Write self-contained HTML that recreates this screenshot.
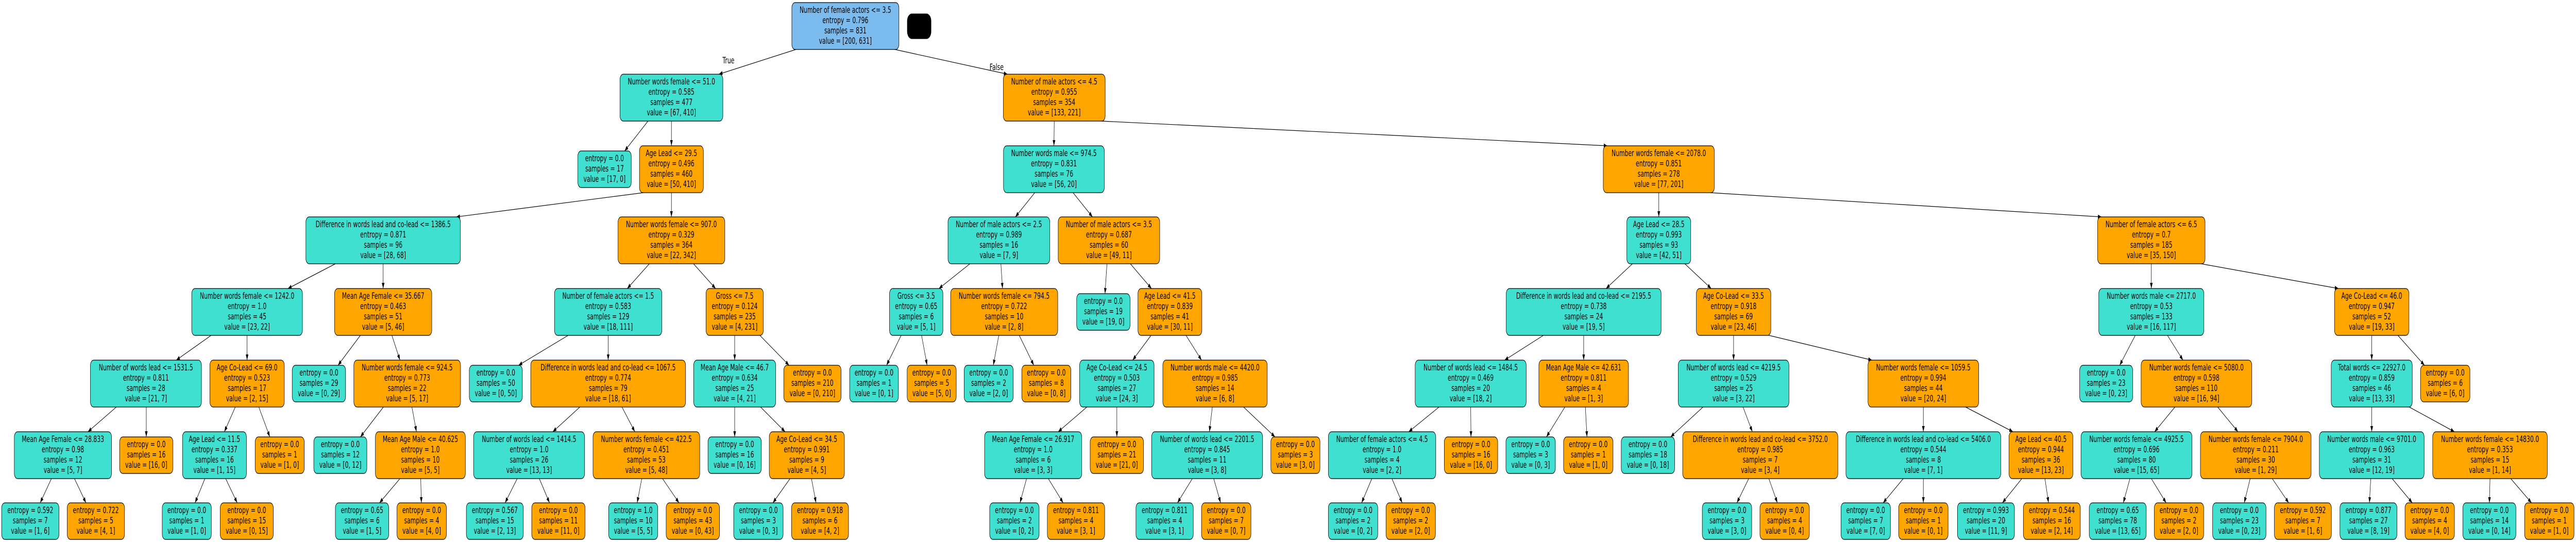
<!DOCTYPE html>
<html><head><meta charset="utf-8"><style>
html,body{margin:0;padding:0;background:#fff;width:100%;height:100%;overflow:hidden;}
svg{display:block;width:100vw;height:100vh}
rect{stroke:#000;stroke-width:1.2}
.t{fill:#40e0d0}.o{fill:#ffa500}.b{fill:#7bbbee}
text{font-family:"DejaVu Sans","Liberation Sans",sans-serif;font-size:17px;text-anchor:middle;fill:#000}
line{stroke:#000;stroke-width:1.2;marker-end:url(#ah)}
</style></head><body>
<svg width="7819" height="1052" viewBox="0 0 7819 1052" preserveAspectRatio="none" xmlns="http://www.w3.org/2000/svg">
<defs><marker id="ah" markerUnits="userSpaceOnUse" markerWidth="11" markerHeight="8" refX="11" refY="4" orient="auto"><path d="M0,0 L11,4 L0,8 z" fill="#000"/></marker></defs>
<line x1="2416" y1="96" x2="2182" y2="144"/>
<line x1="2716" y1="96" x2="3058" y2="144"/>
<line x1="1967" y1="235" x2="1896" y2="293"/>
<line x1="2038" y1="235" x2="2038" y2="283"/>
<line x1="3200" y1="235" x2="3199" y2="283"/>
<line x1="3342" y1="235" x2="4879" y2="283"/>
<line x1="1953" y1="374" x2="1385" y2="421"/>
<line x1="2038" y1="374" x2="2038" y2="421"/>
<line x1="3141" y1="374" x2="3082" y2="421"/>
<line x1="3257" y1="374" x2="3316" y2="421"/>
<line x1="5035" y1="374" x2="5035" y2="421"/>
<line x1="5191" y1="374" x2="6379" y2="421"/>
<line x1="1018" y1="512" x2="874" y2="560"/>
<line x1="1163" y1="512" x2="1163" y2="560"/>
<line x1="1971" y1="512" x2="1904" y2="560"/>
<line x1="2105" y1="512" x2="2172" y2="560"/>
<line x1="2944" y1="512" x2="2850" y2="560"/>
<line x1="3038" y1="512" x2="3043" y2="560"/>
<line x1="3360" y1="512" x2="3354" y2="570"/>
<line x1="3431" y1="512" x2="3495" y2="560"/>
<line x1="4955" y1="512" x2="4875" y2="560"/>
<line x1="5114" y1="512" x2="5194" y2="560"/>
<line x1="6530" y1="512" x2="6530" y2="560"/>
<line x1="6681" y1="512" x2="7098" y2="560"/>
<line x1="643" y1="650" x2="535" y2="699"/>
<line x1="750" y1="650" x2="750" y2="699"/>
<line x1="1095" y1="650" x2="1026" y2="709"/>
<line x1="1189" y1="650" x2="1214" y2="699"/>
<line x1="1727" y1="650" x2="1574" y2="709"/>
<line x1="1846" y1="650" x2="1846" y2="699"/>
<line x1="2230" y1="650" x2="2230" y2="699"/>
<line x1="2305" y1="650" x2="2395" y2="709"/>
<line x1="2736" y1="650" x2="2691" y2="709"/>
<line x1="2797" y1="650" x2="2814" y2="709"/>
<line x1="3032" y1="650" x2="3015" y2="709"/>
<line x1="3093" y1="650" x2="3138" y2="709"/>
<line x1="3495" y1="650" x2="3438" y2="699"/>
<line x1="3599" y1="650" x2="3647" y2="699"/>
<line x1="4687" y1="650" x2="4567" y2="699"/>
<line x1="4807" y1="650" x2="4807" y2="699"/>
<line x1="5262" y1="650" x2="5262" y2="699"/>
<line x1="5363" y1="650" x2="5682" y2="699"/>
<line x1="6482" y1="650" x2="6434" y2="709"/>
<line x1="6578" y1="650" x2="6626" y2="699"/>
<line x1="7199" y1="650" x2="7199" y2="699"/>
<line x1="7277" y1="650" x2="7359" y2="709"/>
<line x1="355" y1="789" x2="267" y2="838"/>
<line x1="444" y1="789" x2="444" y2="848"/>
<line x1="715" y1="789" x2="681" y2="838"/>
<line x1="785" y1="789" x2="819" y2="848"/>
<line x1="1165" y1="789" x2="1094" y2="848"/>
<line x1="1250" y1="789" x2="1264" y2="838"/>
<line x1="1762" y1="789" x2="1678" y2="838"/>
<line x1="1887" y1="789" x2="1927" y2="838"/>
<line x1="2230" y1="789" x2="2230" y2="848"/>
<line x1="2307" y1="789" x2="2383" y2="838"/>
<line x1="3301" y1="789" x2="3212" y2="838"/>
<line x1="3390" y1="789" x2="3390" y2="848"/>
<line x1="3680" y1="789" x2="3671" y2="838"/>
<line x1="3773" y1="789" x2="3870" y2="848"/>
<line x1="4370" y1="789" x2="4276" y2="838"/>
<line x1="4464" y1="789" x2="4465" y2="848"/>
<line x1="4751" y1="789" x2="4694" y2="848"/>
<line x1="4812" y1="789" x2="4817" y2="848"/>
<line x1="5171" y1="789" x2="5071" y2="848"/>
<line x1="5290" y1="789" x2="5319" y2="838"/>
<line x1="5838" y1="789" x2="5838" y2="838"/>
<line x1="5963" y1="789" x2="6110" y2="838"/>
<line x1="6603" y1="789" x2="6540" y2="838"/>
<line x1="6730" y1="789" x2="6793" y2="838"/>
<line x1="7199" y1="789" x2="7199" y2="838"/>
<line x1="7310" y1="789" x2="7450" y2="838"/>
<line x1="156" y1="929" x2="122" y2="976"/>
<line x1="226" y1="929" x2="261" y2="976"/>
<line x1="622" y1="929" x2="592" y2="976"/>
<line x1="685" y1="929" x2="720" y2="976"/>
<line x1="1214" y1="929" x2="1152" y2="976"/>
<line x1="1277" y1="929" x2="1279" y2="976"/>
<line x1="1570" y1="929" x2="1533" y2="976"/>
<line x1="1637" y1="929" x2="1668" y2="976"/>
<line x1="1948" y1="929" x2="1934" y2="976"/>
<line x1="2011" y1="929" x2="2061" y2="976"/>
<line x1="2398" y1="929" x2="2346" y2="976"/>
<line x1="2463" y1="929" x2="2477" y2="976"/>
<line x1="3116" y1="929" x2="3096" y2="976"/>
<line x1="3182" y1="929" x2="3227" y2="976"/>
<line x1="3619" y1="929" x2="3574" y2="976"/>
<line x1="3684" y1="929" x2="3705" y2="976"/>
<line x1="4164" y1="929" x2="4133" y2="976"/>
<line x1="4225" y1="929" x2="4256" y2="976"/>
<line x1="5308" y1="929" x2="5272" y2="976"/>
<line x1="5369" y1="929" x2="5395" y2="976"/>
<line x1="5777" y1="929" x2="5716" y2="976"/>
<line x1="5838" y1="929" x2="5838" y2="976"/>
<line x1="6137" y1="929" x2="6078" y2="976"/>
<line x1="6207" y1="929" x2="6218" y2="976"/>
<line x1="6465" y1="929" x2="6445" y2="976"/>
<line x1="6530" y1="929" x2="6575" y2="976"/>
<line x1="6830" y1="929" x2="6812" y2="976"/>
<line x1="6897" y1="929" x2="6947" y2="976"/>
<line x1="7196" y1="929" x2="7192" y2="976"/>
<line x1="7261" y1="929" x2="7322" y2="976"/>
<line x1="7558" y1="929" x2="7556" y2="976"/>
<line x1="7621" y1="929" x2="7684" y2="976"/>
<text x="2211" y="123">True</text>
<text x="3025" y="136">False</text>
<rect x="2754" y="27" width="72" height="48" rx="14" fill="#000"/>
<rect class="b" x="2403.5" y="5" width="325" height="91" rx="10"/><text x="2566" y="25">Number of female actors &lt;= 3.5<tspan x="2566" dy="20">entropy = 0.796</tspan><tspan x="2566" dy="20">samples = 831</tspan><tspan x="2566" dy="20">value = [200, 631]</tspan></text>
<rect class="t" x="1882" y="144" width="312" height="91" rx="10"/><text x="2038" y="164">Number words female &lt;= 51.0<tspan x="2038" dy="20">entropy = 0.585</tspan><tspan x="2038" dy="20">samples = 477</tspan><tspan x="2038" dy="20">value = [67, 410]</tspan></text>
<rect class="o" x="3045.5" y="144" width="309" height="91" rx="10"/><text x="3200" y="164">Number of male actors &lt;= 4.5<tspan x="3200" dy="20">entropy = 0.955</tspan><tspan x="3200" dy="20">samples = 354</tspan><tspan x="3200" dy="20">value = [133, 221]</tspan></text>
<rect class="t" x="1754" y="293" width="162" height="71" rx="10"/><text x="1835" y="313">entropy = 0.0<tspan x="1835" dy="20">samples = 17</tspan><tspan x="1835" dy="20">value = [17, 0]</tspan></text>
<rect class="o" x="1941" y="283" width="194" height="91" rx="10"/><text x="2038" y="303">Age Lead &lt;= 29.5<tspan x="2038" dy="20">entropy = 0.496</tspan><tspan x="2038" dy="20">samples = 460</tspan><tspan x="2038" dy="20">value = [50, 410]</tspan></text>
<rect class="t" x="3046" y="283" width="306" height="91" rx="10"/><text x="3199" y="303">Number words male &lt;= 974.5<tspan x="3199" dy="20">entropy = 0.831</tspan><tspan x="3199" dy="20">samples = 76</tspan><tspan x="3199" dy="20">value = [56, 20]</tspan></text>
<rect class="o" x="4866.5" y="283" width="337" height="91" rx="10"/><text x="5035" y="303">Number words female &lt;= 2078.0<tspan x="5035" dy="20">entropy = 0.851</tspan><tspan x="5035" dy="20">samples = 278</tspan><tspan x="5035" dy="20">value = [77, 201]</tspan></text>
<rect class="t" x="928.5" y="421" width="469" height="91" rx="10"/><text x="1163" y="441">Difference in words lead and co-lead &lt;= 1386.5<tspan x="1163" dy="20">entropy = 0.871</tspan><tspan x="1163" dy="20">samples = 96</tspan><tspan x="1163" dy="20">value = [28, 68]</tspan></text>
<rect class="o" x="1876" y="421" width="324" height="91" rx="10"/><text x="2038" y="441">Number words female &lt;= 907.0<tspan x="2038" dy="20">entropy = 0.329</tspan><tspan x="2038" dy="20">samples = 364</tspan><tspan x="2038" dy="20">value = [22, 342]</tspan></text>
<rect class="t" x="2877.5" y="421" width="309" height="91" rx="10"/><text x="3032" y="441">Number of male actors &lt;= 2.5<tspan x="3032" dy="20">entropy = 0.989</tspan><tspan x="3032" dy="20">samples = 16</tspan><tspan x="3032" dy="20">value = [7, 9]</tspan></text>
<rect class="o" x="3212" y="421" width="308" height="91" rx="10"/><text x="3366" y="441">Number of male actors &lt;= 3.5<tspan x="3366" dy="20">entropy = 0.687</tspan><tspan x="3366" dy="20">samples = 60</tspan><tspan x="3366" dy="20">value = [49, 11]</tspan></text>
<rect class="t" x="4938" y="421" width="194" height="91" rx="10"/><text x="5035" y="441">Age Lead &lt;= 28.5<tspan x="5035" dy="20">entropy = 0.993</tspan><tspan x="5035" dy="20">samples = 93</tspan><tspan x="5035" dy="20">value = [42, 51]</tspan></text>
<rect class="o" x="6367" y="421" width="326" height="91" rx="10"/><text x="6530" y="441">Number of female actors &lt;= 6.5<tspan x="6530" dy="20">entropy = 0.7</tspan><tspan x="6530" dy="20">samples = 185</tspan><tspan x="6530" dy="20">value = [35, 150]</tspan></text>
<rect class="t" x="582" y="560" width="336" height="91" rx="10"/><text x="750" y="580">Number words female &lt;= 1242.0<tspan x="750" dy="20">entropy = 1.0</tspan><tspan x="750" dy="20">samples = 45</tspan><tspan x="750" dy="20">value = [23, 22]</tspan></text>
<rect class="o" x="1015.5" y="560" width="295" height="91" rx="10"/><text x="1163" y="580">Mean Age Female &lt;= 35.667<tspan x="1163" dy="20">entropy = 0.463</tspan><tspan x="1163" dy="20">samples = 51</tspan><tspan x="1163" dy="20">value = [5, 46]</tspan></text>
<rect class="t" x="1683" y="560" width="326" height="91" rx="10"/><text x="1846" y="580">Number of female actors &lt;= 1.5<tspan x="1846" dy="20">entropy = 0.583</tspan><tspan x="1846" dy="20">samples = 129</tspan><tspan x="1846" dy="20">value = [18, 111]</tspan></text>
<rect class="o" x="2143" y="560" width="174" height="91" rx="10"/><text x="2230" y="580">Gross &lt;= 7.5<tspan x="2230" dy="20">entropy = 0.124</tspan><tspan x="2230" dy="20">samples = 235</tspan><tspan x="2230" dy="20">value = [4, 231]</tspan></text>
<rect class="t" x="2700" y="560" width="162" height="91" rx="10"/><text x="2781" y="580">Gross &lt;= 3.5<tspan x="2781" dy="20">entropy = 0.65</tspan><tspan x="2781" dy="20">samples = 6</tspan><tspan x="2781" dy="20">value = [5, 1]</tspan></text>
<rect class="o" x="2885.5" y="560" width="325" height="91" rx="10"/><text x="3048" y="580">Number words female &lt;= 794.5<tspan x="3048" dy="20">entropy = 0.722</tspan><tspan x="3048" dy="20">samples = 10</tspan><tspan x="3048" dy="20">value = [2, 8]</tspan></text>
<rect class="t" x="3268" y="570" width="162" height="71" rx="10"/><text x="3349" y="590">entropy = 0.0<tspan x="3349" dy="20">samples = 19</tspan><tspan x="3349" dy="20">value = [19, 0]</tspan></text>
<rect class="o" x="3454" y="560" width="194" height="91" rx="10"/><text x="3551" y="580">Age Lead &lt;= 41.5<tspan x="3551" dy="20">entropy = 0.839</tspan><tspan x="3551" dy="20">samples = 41</tspan><tspan x="3551" dy="20">value = [30, 11]</tspan></text>
<rect class="t" x="4572" y="560" width="470" height="91" rx="10"/><text x="4807" y="580">Difference in words lead and co-lead &lt;= 2195.5<tspan x="4807" dy="20">entropy = 0.738</tspan><tspan x="4807" dy="20">samples = 24</tspan><tspan x="4807" dy="20">value = [19, 5]</tspan></text>
<rect class="o" x="5149" y="560" width="226" height="91" rx="10"/><text x="5262" y="580">Age Co-Lead &lt;= 33.5<tspan x="5262" dy="20">entropy = 0.918</tspan><tspan x="5262" dy="20">samples = 69</tspan><tspan x="5262" dy="20">value = [23, 46]</tspan></text>
<rect class="t" x="6370.5" y="560" width="319" height="91" rx="10"/><text x="6530" y="580">Number words male &lt;= 2717.0<tspan x="6530" dy="20">entropy = 0.53</tspan><tspan x="6530" dy="20">samples = 133</tspan><tspan x="6530" dy="20">value = [16, 117]</tspan></text>
<rect class="o" x="7086" y="560" width="226" height="91" rx="10"/><text x="7199" y="580">Age Co-Lead &lt;= 46.0<tspan x="7199" dy="20">entropy = 0.947</tspan><tspan x="7199" dy="20">samples = 52</tspan><tspan x="7199" dy="20">value = [19, 33]</tspan></text>
<rect class="t" x="274.5" y="699" width="337" height="91" rx="10"/><text x="443" y="719">Number of words lead &lt;= 1531.5<tspan x="443" dy="20">entropy = 0.811</tspan><tspan x="443" dy="20">samples = 28</tspan><tspan x="443" dy="20">value = [21, 7]</tspan></text>
<rect class="o" x="637" y="699" width="226" height="91" rx="10"/><text x="750" y="719">Age Co-Lead &lt;= 69.0<tspan x="750" dy="20">entropy = 0.523</tspan><tspan x="750" dy="20">samples = 17</tspan><tspan x="750" dy="20">value = [2, 15]</tspan></text>
<rect class="t" x="887" y="709" width="162" height="71" rx="10"/><text x="968" y="729">entropy = 0.0<tspan x="968" dy="20">samples = 29</tspan><tspan x="968" dy="20">value = [0, 29]</tspan></text>
<rect class="o" x="1074" y="699" width="324" height="91" rx="10"/><text x="1236" y="719">Number words female &lt;= 924.5<tspan x="1236" dy="20">entropy = 0.773</tspan><tspan x="1236" dy="20">samples = 22</tspan><tspan x="1236" dy="20">value = [5, 17]</tspan></text>
<rect class="t" x="1424.5" y="709" width="161" height="71" rx="10"/><text x="1505" y="729">entropy = 0.0<tspan x="1505" dy="20">samples = 50</tspan><tspan x="1505" dy="20">value = [0, 50]</tspan></text>
<rect class="o" x="1611" y="699" width="470" height="91" rx="10"/><text x="1846" y="719">Difference in words lead and co-lead &lt;= 1067.5<tspan x="1846" dy="20">entropy = 0.774</tspan><tspan x="1846" dy="20">samples = 79</tspan><tspan x="1846" dy="20">value = [18, 61]</tspan></text>
<rect class="t" x="2105.5" y="699" width="249" height="91" rx="10"/><text x="2230" y="719">Mean Age Male &lt;= 46.7<tspan x="2230" dy="20">entropy = 0.634</tspan><tspan x="2230" dy="20">samples = 25</tspan><tspan x="2230" dy="20">value = [4, 21]</tspan></text>
<rect class="o" x="2379" y="709" width="174" height="71" rx="10"/><text x="2466" y="729">entropy = 0.0<tspan x="2466" dy="20">samples = 210</tspan><tspan x="2466" dy="20">value = [0, 210]</tspan></text>
<rect class="t" x="2579" y="709" width="148" height="71" rx="10"/><text x="2653" y="729">entropy = 0.0<tspan x="2653" dy="20">samples = 1</tspan><tspan x="2653" dy="20">value = [0, 1]</tspan></text>
<rect class="o" x="2753.5" y="709" width="149" height="71" rx="10"/><text x="2828" y="729">entropy = 0.0<tspan x="2828" dy="20">samples = 5</tspan><tspan x="2828" dy="20">value = [5, 0]</tspan></text>
<rect class="t" x="2926.5" y="709" width="149" height="71" rx="10"/><text x="3001" y="729">entropy = 0.0<tspan x="3001" dy="20">samples = 2</tspan><tspan x="3001" dy="20">value = [2, 0]</tspan></text>
<rect class="o" x="3101.5" y="709" width="149" height="71" rx="10"/><text x="3176" y="729">entropy = 0.0<tspan x="3176" dy="20">samples = 8</tspan><tspan x="3176" dy="20">value = [0, 8]</tspan></text>
<rect class="t" x="3277" y="699" width="226" height="91" rx="10"/><text x="3390" y="719">Age Co-Lead &lt;= 24.5<tspan x="3390" dy="20">entropy = 0.503</tspan><tspan x="3390" dy="20">samples = 27</tspan><tspan x="3390" dy="20">value = [24, 3]</tspan></text>
<rect class="o" x="3529.5" y="699" width="317" height="91" rx="10"/><text x="3688" y="719">Number words male &lt;= 4420.0<tspan x="3688" dy="20">entropy = 0.985</tspan><tspan x="3688" dy="20">samples = 14</tspan><tspan x="3688" dy="20">value = [6, 8]</tspan></text>
<rect class="t" x="4295.5" y="699" width="337" height="91" rx="10"/><text x="4464" y="719">Number of words lead &lt;= 1484.5<tspan x="4464" dy="20">entropy = 0.469</tspan><tspan x="4464" dy="20">samples = 20</tspan><tspan x="4464" dy="20">value = [18, 2]</tspan></text>
<rect class="o" x="4671" y="699" width="272" height="91" rx="10"/><text x="4807" y="719">Mean Age Male &lt;= 42.631<tspan x="4807" dy="20">entropy = 0.811</tspan><tspan x="4807" dy="20">samples = 4</tspan><tspan x="4807" dy="20">value = [1, 3]</tspan></text>
<rect class="t" x="5094" y="699" width="336" height="91" rx="10"/><text x="5262" y="719">Number of words lead &lt;= 4219.5<tspan x="5262" dy="20">entropy = 0.529</tspan><tspan x="5262" dy="20">samples = 25</tspan><tspan x="5262" dy="20">value = [3, 22]</tspan></text>
<rect class="o" x="5670" y="699" width="336" height="91" rx="10"/><text x="5838" y="719">Number words female &lt;= 1059.5<tspan x="5838" dy="20">entropy = 0.994</tspan><tspan x="5838" dy="20">samples = 44</tspan><tspan x="5838" dy="20">value = [20, 24]</tspan></text>
<rect class="t" x="6312.5" y="709" width="161" height="71" rx="10"/><text x="6393" y="729">entropy = 0.0<tspan x="6393" dy="20">samples = 23</tspan><tspan x="6393" dy="20">value = [0, 23]</tspan></text>
<rect class="o" x="6499" y="699" width="336" height="91" rx="10"/><text x="6667" y="719">Number words female &lt;= 5080.0<tspan x="6667" dy="20">entropy = 0.598</tspan><tspan x="6667" dy="20">samples = 110</tspan><tspan x="6667" dy="20">value = [16, 94]</tspan></text>
<rect class="t" x="7076" y="699" width="246" height="91" rx="10"/><text x="7199" y="719">Total words &lt;= 22927.0<tspan x="7199" dy="20">entropy = 0.859</tspan><tspan x="7199" dy="20">samples = 46</tspan><tspan x="7199" dy="20">value = [13, 33]</tspan></text>
<rect class="o" x="7347" y="709" width="150" height="71" rx="10"/><text x="7422" y="729">entropy = 0.0<tspan x="7422" dy="20">samples = 6</tspan><tspan x="7422" dy="20">value = [6, 0]</tspan></text>
<rect class="t" x="43.5" y="838" width="295" height="91" rx="10"/><text x="191" y="858">Mean Age Female &lt;= 28.833<tspan x="191" dy="20">entropy = 0.98</tspan><tspan x="191" dy="20">samples = 12</tspan><tspan x="191" dy="20">value = [5, 7]</tspan></text>
<rect class="o" x="363" y="848" width="162" height="71" rx="10"/><text x="444" y="868">entropy = 0.0<tspan x="444" dy="20">samples = 16</tspan><tspan x="444" dy="20">value = [16, 0]</tspan></text>
<rect class="t" x="554" y="838" width="194" height="91" rx="10"/><text x="651" y="858">Age Lead &lt;= 11.5<tspan x="651" dy="20">entropy = 0.337</tspan><tspan x="651" dy="20">samples = 16</tspan><tspan x="651" dy="20">value = [1, 15]</tspan></text>
<rect class="o" x="774.5" y="848" width="149" height="71" rx="10"/><text x="849" y="868">entropy = 0.0<tspan x="849" dy="20">samples = 1</tspan><tspan x="849" dy="20">value = [1, 0]</tspan></text>
<rect class="t" x="952.5" y="848" width="161" height="71" rx="10"/><text x="1033" y="868">entropy = 0.0<tspan x="1033" dy="20">samples = 12</tspan><tspan x="1033" dy="20">value = [0, 12]</tspan></text>
<rect class="o" x="1139.5" y="838" width="273" height="91" rx="10"/><text x="1276" y="858">Mean Age Male &lt;= 40.625<tspan x="1276" dy="20">entropy = 1.0</tspan><tspan x="1276" dy="20">samples = 10</tspan><tspan x="1276" dy="20">value = [5, 5]</tspan></text>
<rect class="t" x="1437.5" y="838" width="337" height="91" rx="10"/><text x="1606" y="858">Number of words lead &lt;= 1414.5<tspan x="1606" dy="20">entropy = 1.0</tspan><tspan x="1606" dy="20">samples = 26</tspan><tspan x="1606" dy="20">value = [13, 13]</tspan></text>
<rect class="o" x="1800" y="838" width="324" height="91" rx="10"/><text x="1962" y="858">Number words female &lt;= 422.5<tspan x="1962" dy="20">entropy = 0.451</tspan><tspan x="1962" dy="20">samples = 53</tspan><tspan x="1962" dy="20">value = [5, 48]</tspan></text>
<rect class="t" x="2149" y="848" width="162" height="71" rx="10"/><text x="2230" y="868">entropy = 0.0<tspan x="2230" dy="20">samples = 16</tspan><tspan x="2230" dy="20">value = [0, 16]</tspan></text>
<rect class="o" x="2335" y="838" width="228" height="91" rx="10"/><text x="2449" y="858">Age Co-Lead &lt;= 34.5<tspan x="2449" dy="20">entropy = 0.991</tspan><tspan x="2449" dy="20">samples = 9</tspan><tspan x="2449" dy="20">value = [4, 5]</tspan></text>
<rect class="t" x="2988.5" y="838" width="295" height="91" rx="10"/><text x="3136" y="858">Mean Age Female &lt;= 26.917<tspan x="3136" dy="20">entropy = 1.0</tspan><tspan x="3136" dy="20">samples = 6</tspan><tspan x="3136" dy="20">value = [3, 3]</tspan></text>
<rect class="o" x="3309" y="848" width="162" height="71" rx="10"/><text x="3390" y="868">entropy = 0.0<tspan x="3390" dy="20">samples = 21</tspan><tspan x="3390" dy="20">value = [21, 0]</tspan></text>
<rect class="t" x="3495.5" y="838" width="337" height="91" rx="10"/><text x="3664" y="858">Number of words lead &lt;= 2201.5<tspan x="3664" dy="20">entropy = 0.845</tspan><tspan x="3664" dy="20">samples = 11</tspan><tspan x="3664" dy="20">value = [3, 8]</tspan></text>
<rect class="o" x="3857.5" y="848" width="149" height="71" rx="10"/><text x="3932" y="868">entropy = 0.0<tspan x="3932" dy="20">samples = 3</tspan><tspan x="3932" dy="20">value = [3, 0]</tspan></text>
<rect class="t" x="4032" y="838" width="326" height="91" rx="10"/><text x="4195" y="858">Number of female actors &lt;= 4.5<tspan x="4195" dy="20">entropy = 1.0</tspan><tspan x="4195" dy="20">samples = 4</tspan><tspan x="4195" dy="20">value = [2, 2]</tspan></text>
<rect class="o" x="4384" y="848" width="162" height="71" rx="10"/><text x="4465" y="868">entropy = 0.0<tspan x="4465" dy="20">samples = 16</tspan><tspan x="4465" dy="20">value = [16, 0]</tspan></text>
<rect class="t" x="4571" y="848" width="150" height="71" rx="10"/><text x="4646" y="868">entropy = 0.0<tspan x="4646" dy="20">samples = 3</tspan><tspan x="4646" dy="20">value = [0, 3]</tspan></text>
<rect class="o" x="4746" y="848" width="150" height="71" rx="10"/><text x="4821" y="868">entropy = 0.0<tspan x="4821" dy="20">samples = 1</tspan><tspan x="4821" dy="20">value = [1, 0]</tspan></text>
<rect class="t" x="4921" y="848" width="162" height="71" rx="10"/><text x="5002" y="868">entropy = 0.0<tspan x="5002" dy="20">samples = 18</tspan><tspan x="5002" dy="20">value = [0, 18]</tspan></text>
<rect class="o" x="5107.5" y="838" width="471" height="91" rx="10"/><text x="5343" y="858">Difference in words lead and co-lead &lt;= 3752.0<tspan x="5343" dy="20">entropy = 0.985</tspan><tspan x="5343" dy="20">samples = 7</tspan><tspan x="5343" dy="20">value = [3, 4]</tspan></text>
<rect class="t" x="5603" y="838" width="470" height="91" rx="10"/><text x="5838" y="858">Difference in words lead and co-lead &lt;= 5406.0<tspan x="5838" dy="20">entropy = 0.544</tspan><tspan x="5838" dy="20">samples = 8</tspan><tspan x="5838" dy="20">value = [7, 1]</tspan></text>
<rect class="o" x="6098" y="838" width="194" height="91" rx="10"/><text x="6195" y="858">Age Lead &lt;= 40.5<tspan x="6195" dy="20">entropy = 0.944</tspan><tspan x="6195" dy="20">samples = 36</tspan><tspan x="6195" dy="20">value = [13, 23]</tspan></text>
<rect class="t" x="6316.5" y="838" width="337" height="91" rx="10"/><text x="6485" y="858">Number words female &lt;= 4925.5<tspan x="6485" dy="20">entropy = 0.696</tspan><tspan x="6485" dy="20">samples = 80</tspan><tspan x="6485" dy="20">value = [15, 65]</tspan></text>
<rect class="o" x="6679" y="838" width="336" height="91" rx="10"/><text x="6847" y="858">Number words female &lt;= 7904.0<tspan x="6847" dy="20">entropy = 0.211</tspan><tspan x="6847" dy="20">samples = 30</tspan><tspan x="6847" dy="20">value = [1, 29]</tspan></text>
<rect class="t" x="7040" y="838" width="318" height="91" rx="10"/><text x="7199" y="858">Number words male &lt;= 9701.0<tspan x="7199" dy="20">entropy = 0.963</tspan><tspan x="7199" dy="20">samples = 31</tspan><tspan x="7199" dy="20">value = [12, 19]</tspan></text>
<rect class="o" x="7384" y="838" width="348" height="91" rx="10"/><text x="7558" y="858">Number words female &lt;= 14830.0<tspan x="7558" dy="20">entropy = 0.353</tspan><tspan x="7558" dy="20">samples = 15</tspan><tspan x="7558" dy="20">value = [1, 14]</tspan></text>
<rect class="t" x="5" y="976" width="174" height="71" rx="10"/><text x="92" y="996">entropy = 0.592<tspan x="92" dy="20">samples = 7</tspan><tspan x="92" dy="20">value = [1, 6]</tspan></text>
<rect class="o" x="204" y="976" width="174" height="71" rx="10"/><text x="291" y="996">entropy = 0.722<tspan x="291" dy="20">samples = 5</tspan><tspan x="291" dy="20">value = [4, 1]</tspan></text>
<rect class="t" x="492.5" y="976" width="149" height="71" rx="10"/><text x="567" y="996">entropy = 0.0<tspan x="567" dy="20">samples = 1</tspan><tspan x="567" dy="20">value = [1, 0]</tspan></text>
<rect class="o" x="668.5" y="976" width="161" height="71" rx="10"/><text x="749" y="996">entropy = 0.0<tspan x="749" dy="20">samples = 15</tspan><tspan x="749" dy="20">value = [0, 15]</tspan></text>
<rect class="t" x="1018" y="976" width="162" height="71" rx="10"/><text x="1099" y="996">entropy = 0.65<tspan x="1099" dy="20">samples = 6</tspan><tspan x="1099" dy="20">value = [1, 5]</tspan></text>
<rect class="o" x="1205" y="976" width="150" height="71" rx="10"/><text x="1280" y="996">entropy = 0.0<tspan x="1280" dy="20">samples = 4</tspan><tspan x="1280" dy="20">value = [4, 0]</tspan></text>
<rect class="t" x="1415.5" y="976" width="173" height="71" rx="10"/><text x="1502" y="996">entropy = 0.567<tspan x="1502" dy="20">samples = 15</tspan><tspan x="1502" dy="20">value = [2, 13]</tspan></text>
<rect class="o" x="1614" y="976" width="162" height="71" rx="10"/><text x="1695" y="996">entropy = 0.0<tspan x="1695" dy="20">samples = 11</tspan><tspan x="1695" dy="20">value = [11, 0]</tspan></text>
<rect class="t" x="1847.5" y="976" width="149" height="71" rx="10"/><text x="1922" y="996">entropy = 1.0<tspan x="1922" dy="20">samples = 10</tspan><tspan x="1922" dy="20">value = [5, 5]</tspan></text>
<rect class="o" x="2022" y="976" width="162" height="71" rx="10"/><text x="2103" y="996">entropy = 0.0<tspan x="2103" dy="20">samples = 43</tspan><tspan x="2103" dy="20">value = [0, 43]</tspan></text>
<rect class="t" x="2227" y="976" width="150" height="71" rx="10"/><text x="2302" y="996">entropy = 0.0<tspan x="2302" dy="20">samples = 3</tspan><tspan x="2302" dy="20">value = [0, 3]</tspan></text>
<rect class="o" x="2402.5" y="976" width="173" height="71" rx="10"/><text x="2489" y="996">entropy = 0.918<tspan x="2489" dy="20">samples = 6</tspan><tspan x="2489" dy="20">value = [4, 2]</tspan></text>
<rect class="t" x="3004" y="976" width="150" height="71" rx="10"/><text x="3079" y="996">entropy = 0.0<tspan x="3079" dy="20">samples = 2</tspan><tspan x="3079" dy="20">value = [0, 2]</tspan></text>
<rect class="o" x="3179" y="976" width="174" height="71" rx="10"/><text x="3266" y="996">entropy = 0.811<tspan x="3266" dy="20">samples = 4</tspan><tspan x="3266" dy="20">value = [3, 1]</tspan></text>
<rect class="t" x="3448" y="976" width="174" height="71" rx="10"/><text x="3535" y="996">entropy = 0.811<tspan x="3535" dy="20">samples = 4</tspan><tspan x="3535" dy="20">value = [3, 1]</tspan></text>
<rect class="o" x="3647" y="976" width="150" height="71" rx="10"/><text x="3722" y="996">entropy = 0.0<tspan x="3722" dy="20">samples = 7</tspan><tspan x="3722" dy="20">value = [0, 7]</tspan></text>
<rect class="t" x="4032" y="976" width="150" height="71" rx="10"/><text x="4107" y="996">entropy = 0.0<tspan x="4107" dy="20">samples = 2</tspan><tspan x="4107" dy="20">value = [0, 2]</tspan></text>
<rect class="o" x="4207" y="976" width="150" height="71" rx="10"/><text x="4282" y="996">entropy = 0.0<tspan x="4282" dy="20">samples = 2</tspan><tspan x="4282" dy="20">value = [2, 0]</tspan></text>
<rect class="t" x="5167" y="976" width="150" height="71" rx="10"/><text x="5242" y="996">entropy = 0.0<tspan x="5242" dy="20">samples = 3</tspan><tspan x="5242" dy="20">value = [3, 0]</tspan></text>
<rect class="o" x="5342" y="976" width="150" height="71" rx="10"/><text x="5417" y="996">entropy = 0.0<tspan x="5417" dy="20">samples = 4</tspan><tspan x="5417" dy="20">value = [0, 4]</tspan></text>
<rect class="t" x="5588" y="976" width="150" height="71" rx="10"/><text x="5663" y="996">entropy = 0.0<tspan x="5663" dy="20">samples = 7</tspan><tspan x="5663" dy="20">value = [7, 0]</tspan></text>
<rect class="o" x="5763" y="976" width="150" height="71" rx="10"/><text x="5838" y="996">entropy = 0.0<tspan x="5838" dy="20">samples = 1</tspan><tspan x="5838" dy="20">value = [0, 1]</tspan></text>
<rect class="t" x="5941.5" y="976" width="173" height="71" rx="10"/><text x="6028" y="996">entropy = 0.993<tspan x="6028" dy="20">samples = 20</tspan><tspan x="6028" dy="20">value = [11, 9]</tspan></text>
<rect class="o" x="6141.5" y="976" width="173" height="71" rx="10"/><text x="6228" y="996">entropy = 0.544<tspan x="6228" dy="20">samples = 16</tspan><tspan x="6228" dy="20">value = [2, 14]</tspan></text>
<rect class="t" x="6341.5" y="976" width="173" height="71" rx="10"/><text x="6428" y="996">entropy = 0.65<tspan x="6428" dy="20">samples = 78</tspan><tspan x="6428" dy="20">value = [13, 65]</tspan></text>
<rect class="o" x="6539" y="976" width="150" height="71" rx="10"/><text x="6614" y="996">entropy = 0.0<tspan x="6614" dy="20">samples = 2</tspan><tspan x="6614" dy="20">value = [2, 0]</tspan></text>
<rect class="t" x="6716" y="976" width="162" height="71" rx="10"/><text x="6797" y="996">entropy = 0.0<tspan x="6797" dy="20">samples = 23</tspan><tspan x="6797" dy="20">value = [0, 23]</tspan></text>
<rect class="o" x="6903.5" y="976" width="173" height="71" rx="10"/><text x="6990" y="996">entropy = 0.592<tspan x="6990" dy="20">samples = 7</tspan><tspan x="6990" dy="20">value = [1, 6]</tspan></text>
<rect class="t" x="7102.5" y="976" width="173" height="71" rx="10"/><text x="7189" y="996">entropy = 0.877<tspan x="7189" dy="20">samples = 27</tspan><tspan x="7189" dy="20">value = [8, 19]</tspan></text>
<rect class="o" x="7300" y="976" width="150" height="71" rx="10"/><text x="7375" y="996">entropy = 0.0<tspan x="7375" dy="20">samples = 4</tspan><tspan x="7375" dy="20">value = [4, 0]</tspan></text>
<rect class="t" x="7475.5" y="976" width="161" height="71" rx="10"/><text x="7556" y="996">entropy = 0.0<tspan x="7556" dy="20">samples = 14</tspan><tspan x="7556" dy="20">value = [0, 14]</tspan></text>
<rect class="o" x="7663" y="976" width="150" height="71" rx="10"/><text x="7738" y="996">entropy = 0.0<tspan x="7738" dy="20">samples = 1</tspan><tspan x="7738" dy="20">value = [1, 0]</tspan></text>
</svg>
</body></html>
